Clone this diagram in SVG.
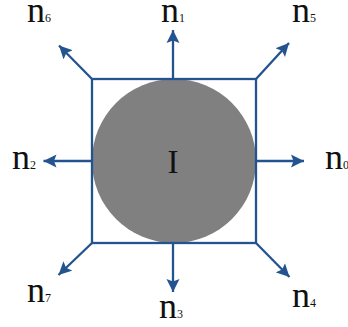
<svg xmlns="http://www.w3.org/2000/svg" width="348" height="327" viewBox="0 0 348 327">
<style>
.lbl{font-family:"Liberation Serif","Times New Roman",serif;font-size:36px;fill:#111}
.sub{font-size:12px}
.edge{stroke:#24548f;stroke-width:2.3;fill:none}
</style>
<defs>
<marker id="ah" markerUnits="userSpaceOnUse" markerWidth="14" markerHeight="14" refX="13" refY="6.5" orient="auto" viewBox="0 0 14 13">
<path d="M0,0 L13,6.5 L0,13 L2.5,6.5 Z" fill="#24548f"/>
</marker>
</defs>
<rect width="348" height="327" fill="#ffffff"/>
<g id="body">
<circle cx="174" cy="161" r="82" fill="#808080"/>
<rect x="92" y="79" width="164" height="164" fill="none" stroke="#24548f" stroke-width="2.3"/>
<text x="173" y="173" class="lbl" font-size="33" text-anchor="middle" style="font-size:33px">I</text>
</g>
<g id="connectors">
<line class="edge" x1="173" y1="79" x2="173" y2="30" marker-end="url(#ah)"/>
<line class="edge" x1="92" y1="79" x2="59" y2="45.5" marker-end="url(#ah)"/>
<line class="edge" x1="256" y1="79" x2="289" y2="43" marker-end="url(#ah)"/>
<line class="edge" x1="92" y1="161" x2="43.5" y2="161" marker-end="url(#ah)"/>
<line class="edge" x1="256" y1="161" x2="304" y2="161" marker-end="url(#ah)"/>
<line class="edge" x1="173" y1="243" x2="173" y2="292" marker-end="url(#ah)"/>
<line class="edge" x1="92" y1="243" x2="58.5" y2="275" marker-end="url(#ah)"/>
<line class="edge" x1="256" y1="243" x2="289.5" y2="277" marker-end="url(#ah)"/>
</g>
<g id="n6"><text class="lbl" x="27" y="22">n<tspan class="sub">6</tspan></text></g>
<g id="n1"><text class="lbl" x="161" y="22">n<tspan class="sub">1</tspan></text></g>
<g id="n5"><text class="lbl" x="292" y="22">n<tspan class="sub">5</tspan></text></g>
<g id="n2"><text class="lbl" x="12" y="169">n<tspan class="sub">2</tspan></text></g>
<g id="n0"><text class="lbl" x="325" y="169">n<tspan class="sub">0</tspan></text></g>
<g id="n7"><text class="lbl" x="27" y="302">n<tspan class="sub">7</tspan></text></g>
<g id="n3"><text class="lbl" x="159" y="318">n<tspan class="sub">3</tspan></text></g>
<g id="n4"><text class="lbl" x="292" y="307">n<tspan class="sub">4</tspan></text></g>
</svg>
